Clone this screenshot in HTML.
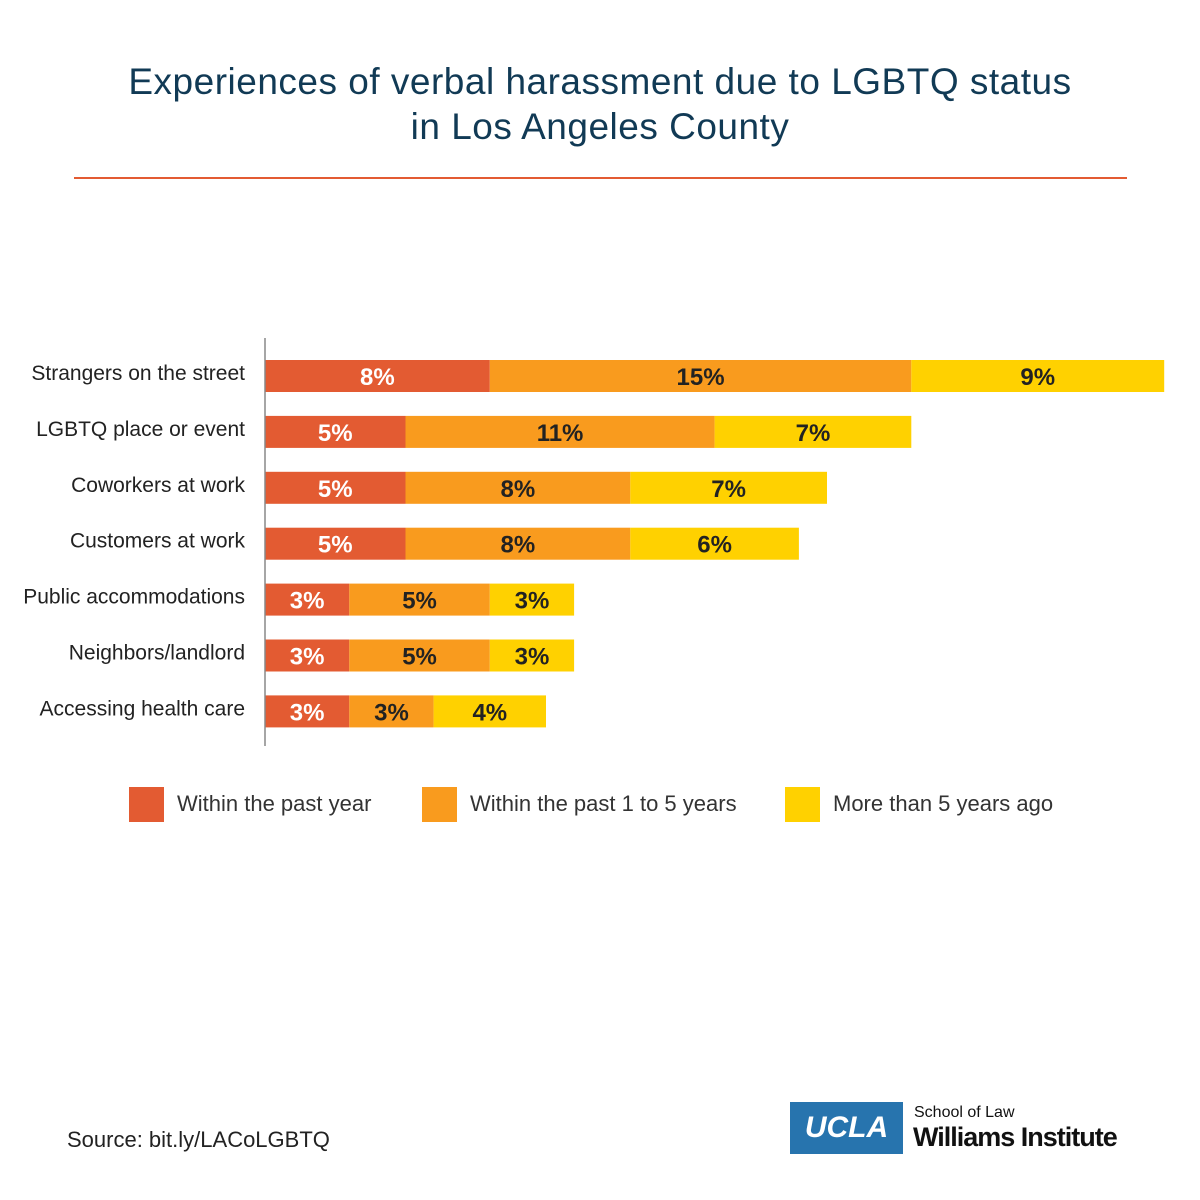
<!DOCTYPE html>
<html><head><meta charset="utf-8"><style>
body{margin:0;background:#fff;font-family:"Liberation Sans",sans-serif;}
#wrap{position:relative;width:1200px;height:1200px;overflow:hidden;}
.title{position:absolute;left:0;width:1200px;text-align:center;color:#113a55;font-size:37px;letter-spacing:0.5px;line-height:45px;top:59px;}
</style></head><body>
<div id="wrap">
<div class="title">Experiences of verbal harassment due to LGBTQ status<br>in Los Angeles County</div>
<div style="position:absolute;left:74px;top:177px;width:1053px;height:2px;background:#e35b32"></div>
<svg id="chart" width="1200" height="1200" style="position:absolute;left:0;top:0"></svg>
<div style="position:absolute;left:67px;top:1127px;font-size:22px;color:#222">Source: bit.ly/LACoLGBTQ</div>
<div style="position:absolute;left:790px;top:1102px;width:113px;height:52px;background:#2774ae;color:#fff;font-weight:bold;font-size:30px;line-height:52px;text-align:center;font-style:italic">UCLA</div>
<div style="position:absolute;left:914px;top:1104px;font-size:16px;color:#111">School of Law</div>
<div style="position:absolute;left:913px;top:1122px;font-size:27px;font-weight:bold;color:#111;letter-spacing:-1px">Williams Institute</div>
</div>
<script>
const categories=["Strangers on the street","LGBTQ place or event","Coworkers at work","Customers at work","Public accommodations","Neighbors/landlord","Accessing health care"];
const pastYear=[8,5,5,5,3,3,3];
const oneToFive=[15,11,8,8,5,5,3];
const moreThanFive=[9,7,7,6,3,3,4];
const seriesNames=["Within the past year","Within the past 1 to 5 years","More than 5 years ago"];
const colors=["#e35b32","#f99b1e","#ffd100"];
const textColors=["#fff","#222","#222"];
const svg=document.getElementById('chart');
const NS="http://www.w3.org/2000/svg";
const x0=265,pxPer=28.1;
const xs=v=>x0+v*pxPer;
const yc=i=>376+i*55.9;
const bh=32;
function mk(tag,attrs){const e=document.createElementNS(NS,tag);for(const k in attrs)e.setAttribute(k,attrs[k]);svg.appendChild(e);return e;}
const series=[pastYear,oneToFive,moreThanFive];
categories.forEach((c,i)=>{
  const t=mk('text',{x:245,y:yc(i)+4,'text-anchor':'end','font-size':21,fill:'#222'});
  t.textContent=c;
  
  
  let acc=0;
  series.forEach((s,k)=>{
    const v=s[i];
    const r=mk('rect',{x:xs(acc),y:yc(i)-bh/2,width:xs(acc+v)-xs(acc),height:bh,fill:colors[k]});
    
    
    const l=mk('text',{x:(xs(acc)+xs(acc+v))/2,y:yc(i)+9,'text-anchor':'middle','font-size':24,'font-weight':'bold',fill:textColors[k]});
    l.textContent=v+'%';
    
    
    acc+=v;
  });
});
const ax=mk('line',{x1:265,x2:265,y1:338,y2:746,stroke:'#888','stroke-width':1.5});


const legX=[129,422,785];
seriesNames.forEach((n,k)=>{
  const r=mk('rect',{x:legX[k],y:787,width:35,height:35,fill:colors[k]});
  
  
  const t=mk('text',{x:legX[k]+48,y:811,'font-size':22,fill:'#333'});
  t.textContent=n;
  
  
});
</script>
</body></html>
